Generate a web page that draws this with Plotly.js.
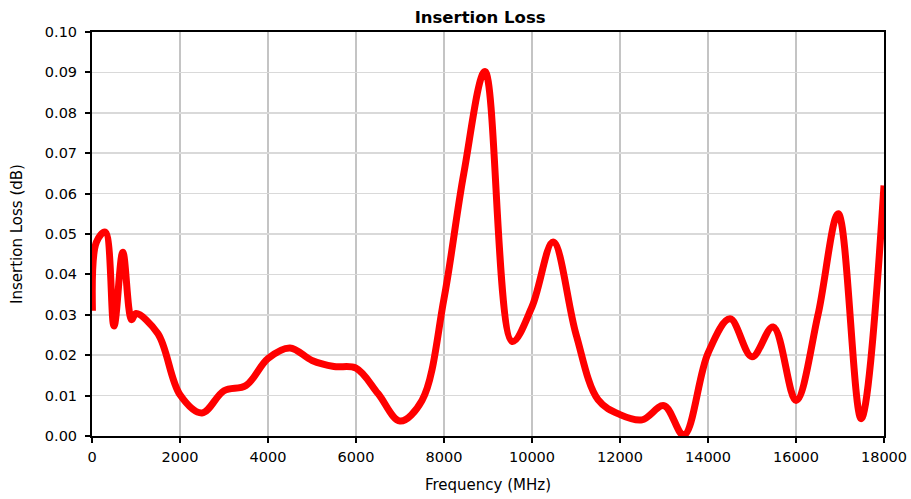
<!DOCTYPE html>
<html>
<head>
<meta charset="utf-8">
<script src="https://cdn.plot.ly/plotly-3.0.1.min.js"></script>
<style>
  html, body { margin: 0; padding: 0; background: #ffffff; }
  #chart { width: 911px; height: 499px; }
</style>
</head>
<body>
<div id="chart"></div>
<script>
// Frequency points (MHz)
const frequencyMHz = [10, 100, 300, 500, 700, 900, 1000, 1500, 2000, 2500, 3000, 3500, 4000, 4500, 5000, 5500, 6000, 6500, 7000, 7500, 8000, 8450, 8930, 9550, 10000, 10480, 11000, 11500, 12000, 12500, 13000, 13450, 14000, 14500, 15000, 15480, 16000, 16500, 16960, 17480, 18000];
// Insertion loss (dB)
const insertionLossDB = [0.031, 0.048, 0.0505, 0.0272, 0.0455, 0.0288, 0.0303, 0.0253, 0.0102, 0.0057, 0.0112, 0.0125, 0.0192, 0.0218, 0.0187, 0.0172, 0.0168, 0.0105, 0.0037, 0.0088, 0.034, 0.065, 0.0902, 0.0234, 0.032, 0.048, 0.0252, 0.009, 0.0053, 0.004, 0.0075, 0.0002, 0.0205, 0.029, 0.0196, 0.0270, 0.0088, 0.03, 0.0550, 0.0043, 0.062];

const chartTitle = 'Insertion Loss';
const xTitle = 'Frequency (MHz)';
const yTitle = 'Insertion Loss (dB)';

const fontFamily = 'DejaVu Sans, Arial, sans-serif';

const trace = {
  x: frequencyMHz,
  y: insertionLossDB,
  type: 'scatter',
  mode: 'lines',
  line: { color: '#ff0000', width: 7, shape: 'spline', smoothing: 1 },
  hoverinfo: 'x+y',
  showlegend: false
};

const layout = {
  width: 911,
  height: 499,
  margin: { l: 92, r: 27, t: 32, b: 63, pad: 0 },
  paper_bgcolor: '#ffffff',
  plot_bgcolor: '#ffffff',
  font: { family: fontFamily, size: 15, color: '#000000' },
  title: {
    text: chartTitle,
    font: { family: fontFamily, size: 16.5, color: '#000000', weight: 'bold' },
    x: 0.527, xref: 'container', xanchor: 'center',
    y: 1 - 17 / 499, yref: 'container', yanchor: 'middle'
  },
  xaxis: {
    range: [0, 18000],
    tick0: 0, dtick: 2000,
    tickformat: 'd',
    showgrid: true, gridcolor: '#c4c4c4', gridwidth: 2,
    zeroline: false,
    showline: true, linecolor: '#000000', linewidth: 2, mirror: true,
    ticks: 'outside', ticklen: 5, tickwidth: 2, tickcolor: '#000000',
    ticklabelstandoff: 2,
    tickfont: { family: fontFamily, size: 14.5, color: '#000000' },
    title: { text: xTitle, font: { family: fontFamily, size: 15, color: '#000000' }, standoff: 15 },
    fixedrange: true
  },
  yaxis: {
    range: [0, 0.1],
    tick0: 0, dtick: 0.01,
    tickformat: '.2f',
    showgrid: true, gridcolor: '#d9d9d9', gridwidth: 1.5,
    zeroline: false,
    showline: true, linecolor: '#000000', linewidth: 2, mirror: true,
    ticks: 'outside', ticklen: 5, tickwidth: 2, tickcolor: '#000000',
    ticklabelstandoff: 5,
    tickfont: { family: fontFamily, size: 14.5, color: '#000000' },
    title: { text: yTitle, font: { family: fontFamily, size: 15, color: '#000000' }, standoff: 19 },
    fixedrange: true
  }
};

Plotly.newPlot('chart', [trace], layout, { displayModeBar: false, staticPlot: true });
</script>
</body>
</html>
